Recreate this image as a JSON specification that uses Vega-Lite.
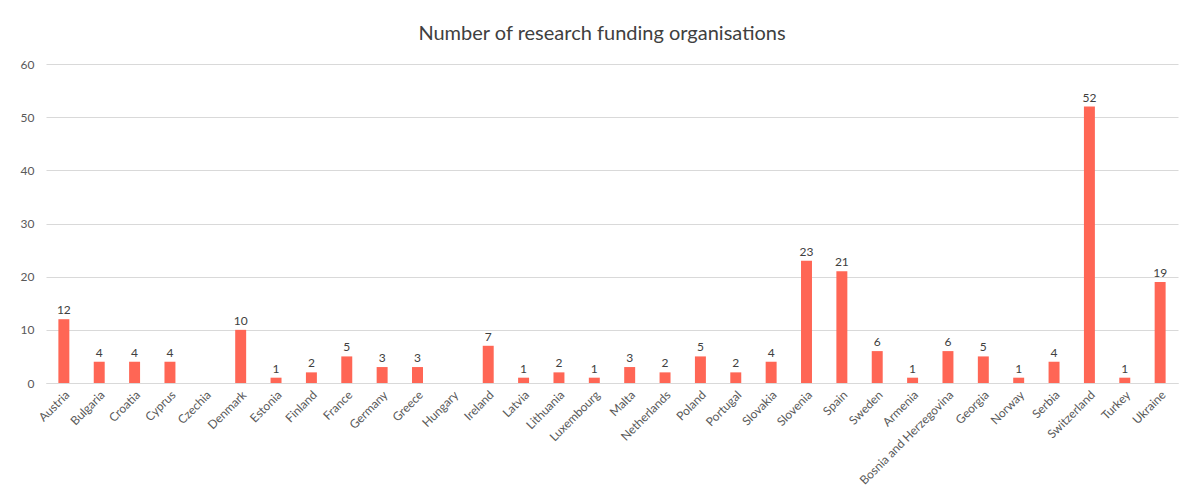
{
  "$schema": "https://vega.github.io/schema/vega-lite/v6.json",
  "width": 1132,
  "height": 319,
  "padding": {"left": 20, "top": 24, "right": 10, "bottom": 5},
  "background": "white",
  "title": {"text": "Number of research funding organisations", "fontSize": 20, "font": "Lato", "fontWeight": "normal", "color": "#404040", "offset": 14, "dx": -10},
  "data": {"values": [
    {"country": "Austria", "value": 12},
    {"country": "Bulgaria", "value": 4},
    {"country": "Croatia", "value": 4},
    {"country": "Cyprus", "value": 4},
    {"country": "Czechia", "value": 0},
    {"country": "Denmark", "value": 10},
    {"country": "Estonia", "value": 1},
    {"country": "Finland", "value": 2},
    {"country": "France", "value": 5},
    {"country": "Germany", "value": 3},
    {"country": "Greece", "value": 3},
    {"country": "Hungary", "value": 0},
    {"country": "Ireland", "value": 7},
    {"country": "Latvia", "value": 1},
    {"country": "Lithuania", "value": 2},
    {"country": "Luxembourg", "value": 1},
    {"country": "Malta", "value": 3},
    {"country": "Netherlands", "value": 2},
    {"country": "Poland", "value": 5},
    {"country": "Portugal", "value": 2},
    {"country": "Slovakia", "value": 4},
    {"country": "Slovenia", "value": 23},
    {"country": "Spain", "value": 21},
    {"country": "Sweden", "value": 6},
    {"country": "Armenia", "value": 1},
    {"country": "Bosnia and Herzegovina", "value": 6},
    {"country": "Georgia", "value": 5},
    {"country": "Norway", "value": 1},
    {"country": "Serbia", "value": 4},
    {"country": "Switzerland", "value": 52},
    {"country": "Turkey", "value": 1},
    {"country": "Ukraine", "value": 19}
  ]},
  "encoding": {
    "x": {"field": "country", "type": "nominal", "sort": null, "title": null,
      "scale": {"paddingInner": 0.69, "paddingOuter": 0.35},
      "axis": {"labelAngle": -45, "labelFontSize": 12, "labelFont": "Lato", "labelColor": "#595959", "ticks": false, "domainColor": "#D9D9D9", "labelPadding": 6}},
    "y": {"field": "value", "type": "quantitative", "title": null,
      "scale": {"domain": [0, 60]},
      "axis": {"values": [0, 10, 20, 30, 40, 50, 60], "labelFontSize": 12, "labelFont": "Lato", "labelColor": "#595959", "ticks": false, "domain": false, "gridColor": "#D9D9D9", "labelPadding": 12}}
  },
  "layer": [
    {"mark": {"type": "bar", "color": "#FF6655"}},
    {"transform": [{"filter": "datum.value > 0"}],
     "mark": {"type": "text", "dy": -9, "fontSize": 12, "font": "Lato", "color": "#404040"},
     "encoding": {"text": {"field": "value", "type": "quantitative"}}}
  ],
  "config": {"view": {"stroke": null}}
}
